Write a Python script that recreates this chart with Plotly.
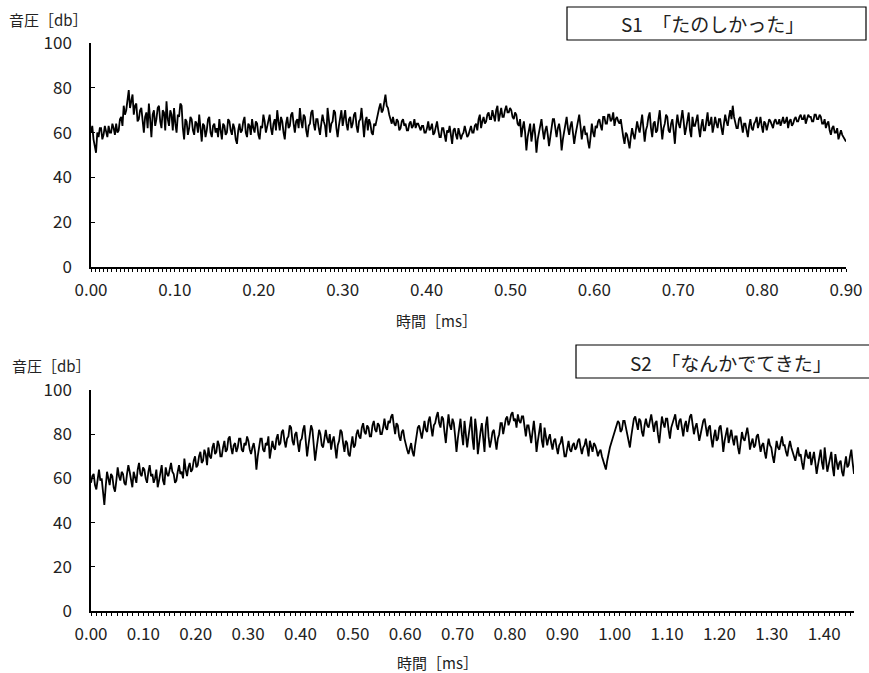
import numpy as np
import plotly.graph_objects as go

# ---- data ----
s1_label = "S1　「たのしかった」"
s2_label = "S2　「なんかでてきた」"
y_title = "音圧［db］"
x_title = "時間［ms］"

s1_step = 0.0015  # ms
s1_db = [
    60, 63, 57, 54, 51, 60, 58, 62, 62, 57, 59, 63, 61, 58, 63, 60, 60, 64, 62, 59,
    64, 60, 61, 66, 67, 63, 72, 68, 70, 75, 79, 71, 74, 77, 68, 72, 73, 65, 66, 70,
    71, 64, 60, 67, 69, 62, 73, 66, 58, 68, 70, 63, 66, 71, 72, 65, 62, 70, 69, 61,
    74, 66, 63, 70, 68, 61, 71, 64, 60, 68, 67, 73, 72, 62, 57, 66, 65, 59, 62, 67,
    66, 61, 59, 65, 64, 60, 68, 62, 56, 64, 63, 58, 61, 66, 67, 60, 58, 63, 64, 60,
    62, 58, 66, 61, 57, 64, 63, 59, 60, 66, 65, 61, 59, 64, 62, 57, 55, 61, 64, 60,
    61, 65, 67, 60, 58, 64, 63, 59, 66, 62, 60, 65, 64, 59, 57, 63, 62, 68, 65, 60,
    63, 66, 68, 62, 59, 64, 66, 61, 70, 65, 61, 67, 65, 60, 57, 64, 67, 62, 63, 68,
    69, 64, 60, 65, 66, 62, 71, 65, 62, 68, 67, 61, 58, 63, 64, 69, 70, 64, 61, 66,
    66, 62, 59, 64, 68, 65, 63, 58, 71, 66, 60, 64, 65, 70, 69, 62, 58, 63, 66, 70,
    63, 67, 70, 64, 61, 66, 67, 62, 64, 68, 69, 63, 60, 65, 66, 71, 62, 58, 65, 67,
    61, 66, 64, 60, 59, 64, 63, 66, 68, 71, 73, 69, 70, 74, 77, 72, 71, 68, 66, 64,
    67, 64, 63, 66, 65, 61, 62, 65, 66, 63, 64, 61, 61, 64, 65, 62, 63, 66, 62, 64,
    64, 62, 61, 63, 63, 60, 60, 62, 65, 61, 62, 64, 59, 60, 63, 65, 61, 58, 58, 62,
    62, 58, 56, 61, 60, 63, 58, 55, 61, 62, 59, 57, 62, 60, 57, 59, 60, 63, 61, 58,
    59, 61, 63, 60, 60, 63, 64, 61, 66, 68, 62, 65, 67, 64, 65, 68, 69, 66, 66, 70,
    68, 65, 70, 72, 65, 68, 71, 67, 67, 70, 72, 69, 69, 71, 70, 67, 66, 69, 68, 64,
    63, 66, 58, 62, 65, 60, 52, 58, 61, 64, 56, 60, 64, 59, 51, 57, 60, 63, 66, 61,
    57, 61, 63, 59, 54, 58, 62, 66, 66, 61, 58, 62, 64, 60, 52, 57, 60, 64, 67, 62,
    59, 63, 65, 60, 55, 59, 62, 66, 68, 63, 57, 61, 63, 59, 60, 56, 53, 58, 64, 60,
    58, 63, 62, 65, 66, 63, 61, 67, 67, 64, 64, 68, 68, 65, 66, 69, 63, 66, 67, 65,
    64, 66, 61, 58, 55, 60, 59, 56, 53, 58, 62, 59, 57, 61, 65, 62, 60, 64, 68, 62,
    56, 61, 63, 67, 69, 62, 58, 64, 65, 60, 61, 66, 70, 63, 57, 62, 64, 68, 67, 61,
    60, 64, 66, 61, 55, 63, 68, 64, 62, 66, 70, 65, 59, 62, 65, 69, 61, 58, 67, 63,
    63, 66, 68, 62, 58, 63, 66, 61, 61, 65, 69, 63, 64, 67, 60, 63, 67, 64, 62, 66,
    66, 62, 59, 64, 68, 65, 63, 67, 70, 66, 72, 67, 65, 62, 62, 66, 67, 63, 60, 64,
    64, 61, 58, 63, 66, 62, 61, 64, 65, 67, 62, 64, 67, 63, 60, 65, 64, 61, 63, 66,
    65, 63, 62, 65, 66, 64, 64, 66, 63, 65, 67, 64, 65, 67, 62, 65, 66, 63, 64, 66,
    67, 65, 65, 67, 68, 66, 66, 68, 64, 66, 68, 67, 67, 65, 65, 68, 68, 66, 66, 68,
    67, 64, 64, 66, 62, 64, 65, 61, 59, 62, 63, 60, 60, 62, 57, 59, 61, 59, 58, 57,
    56,
]

s2_end = 1.457  # ms
s2_db = [
    58, 61, 62, 57, 55, 60, 64, 59, 60, 54, 48, 56, 63, 60, 57, 62, 61, 56, 54, 59,
    65, 61, 59, 63, 62, 58, 57, 62, 66, 63, 60, 56, 63, 60, 58, 64, 67, 62, 61, 65,
    64, 60, 58, 63, 66, 61, 62, 58, 60, 64, 56, 59, 63, 66, 59, 57, 65, 62, 61, 64,
    67, 63, 62, 58, 59, 63, 66, 62, 63, 60, 69, 64, 61, 65, 67, 63, 64, 68, 70, 65,
    66, 70, 72, 67, 68, 73, 71, 66, 74, 70, 69, 74, 76, 71, 72, 77, 75, 70, 70, 74,
    77, 72, 73, 78, 79, 74, 71, 75, 76, 72, 74, 78, 78, 73, 72, 76, 75, 79, 77, 73,
    71, 74, 76, 72, 64, 70, 74, 78, 78, 73, 72, 76, 75, 79, 69, 73, 77, 74, 73, 78,
    80, 75, 76, 81, 82, 77, 74, 78, 79, 84, 83, 77, 75, 80, 81, 76, 72, 77, 78, 82,
    84, 77, 70, 75, 79, 84, 82, 75, 68, 73, 77, 82, 80, 75, 74, 79, 82, 78, 76, 80,
    73, 77, 79, 74, 69, 75, 77, 82, 81, 76, 72, 77, 76, 71, 70, 75, 79, 74, 75, 80,
    82, 79, 78, 83, 85, 81, 80, 84, 83, 79, 79, 84, 86, 82, 81, 85, 84, 80, 80, 83,
    87, 83, 82, 86, 85, 88, 89, 84, 80, 85, 84, 79, 77, 81, 82, 78, 75, 73, 71, 74,
    76, 72, 70, 75, 79, 83, 84, 80, 78, 82, 86, 82, 81, 86, 88, 83, 79, 84, 85, 88,
    90, 85, 83, 88, 87, 81, 76, 83, 89, 84, 82, 87, 85, 79, 72, 78, 84, 87, 80, 75,
    86, 80, 74, 79, 83, 88, 78, 73, 87, 82, 71, 77, 81, 85, 76, 72, 84, 88, 79, 74,
    77, 81, 82, 76, 73, 78, 80, 85, 85, 80, 83, 87, 88, 84, 86, 89, 90, 86, 87, 83,
    89, 86, 85, 88, 88, 83, 79, 84, 84, 80, 76, 81, 86, 80, 72, 77, 81, 85, 77, 74,
    83, 79, 75, 78, 80, 76, 73, 77, 78, 74, 71, 75, 76, 79, 74, 70, 70, 74, 77, 73,
    72, 75, 76, 73, 74, 77, 78, 74, 71, 74, 75, 78, 73, 70, 77, 74, 72, 76, 75, 73,
    70, 72, 73, 70, 68, 66, 64, 68, 72, 74, 76, 78, 79, 82, 83, 86, 85, 81, 82, 86,
    86, 83, 80, 77, 74, 79, 84, 87, 88, 84, 82, 87, 86, 81, 79, 84, 87, 84, 83, 86,
    89, 85, 81, 85, 86, 80, 76, 82, 88, 85, 83, 87, 87, 82, 78, 83, 85, 88, 89, 84,
    82, 86, 87, 83, 79, 84, 86, 81, 84, 88, 89, 85, 80, 83, 85, 81, 77, 80, 83, 86,
    87, 82, 79, 83, 84, 78, 74, 79, 82, 77, 78, 83, 84, 79, 72, 77, 80, 83, 76, 79,
    82, 78, 75, 79, 79, 74, 71, 76, 81, 78, 77, 80, 83, 79, 73, 76, 78, 74, 75, 79,
    80, 76, 72, 75, 76, 72, 69, 74, 78, 75, 74, 70, 67, 72, 77, 74, 73, 76, 79, 75,
    75, 72, 70, 74, 77, 74, 72, 69, 68, 71, 74, 70, 71, 67, 64, 69, 73, 70, 69, 72,
    66, 69, 72, 67, 62, 66, 70, 73, 67, 64, 74, 68, 63, 66, 69, 72, 65, 61, 71, 67,
    64, 67, 68, 63, 61, 66, 70, 65, 66, 70, 73, 67, 62,
]

s1_t = np.arange(len(s1_db)) * s1_step
s2_t = np.linspace(0, s2_end, len(s2_db))

W, H = 869, 673
FONT = "Noto Sans CJK JP"

def px(x):
    return x / W

def py(y):
    return 1 - y / H

fig = go.Figure()
fig.add_trace(go.Scatter(x=s1_t, y=s1_db, mode="lines",
                         line=dict(color="black", width=1.8),
                         xaxis="x", yaxis="y", showlegend=False))
fig.add_trace(go.Scatter(x=s2_t, y=s2_db, mode="lines",
                         line=dict(color="black", width=1.8),
                         xaxis="x2", yaxis="y2", showlegend=False))

common_x = dict(showgrid=False, zeroline=False, showline=True, linecolor="black",
                linewidth=1.5, ticks="outside", ticklen=3, tickcolor="black",
                tickformat=".2f", dtick=0.1, tick0=0, automargin=False,
                tickfont=dict(family=FONT, size=17, color="#222"),
                ticklabelstandoff=4)
common_y = dict(showgrid=False, zeroline=False, showline=True, linecolor="black",
                linewidth=1.5, ticks="inside", ticklen=4, tickcolor="black",
                dtick=20, range=[0, 100], automargin=False,
                tickfont=dict(family=FONT, size=17, color="#222"),
                ticklabelstandoff=14)

fig.update_layout(
    width=W, height=H, margin=dict(l=0, r=0, t=0, b=0),
    paper_bgcolor="white", plot_bgcolor="white",
    font=dict(family=FONT, color="#222"),
    xaxis=dict(domain=[px(91), px(846)], range=[0, 0.9], anchor="y",
               minor=dict(dtick=0.005, ticks="outside", ticklen=3, tickcolor="black"),
               **common_x),
    yaxis=dict(domain=[py(267), py(43)], anchor="x", **common_y),
    xaxis2=dict(domain=[px(91), px(854)], range=[0, s2_end], anchor="y2",
                minor=dict(dtick=0.01, ticks="outside", ticklen=3, tickcolor="black"),
                **common_x),
    yaxis2=dict(domain=[py(611), py(390)], anchor="x2", **common_y),
)

annots = [
    dict(text=y_title, x=px(7), y=py(19), xanchor="left", yanchor="middle", size=15),
    dict(text=y_title, x=px(10), y=py(366), xanchor="left", yanchor="middle", size=15),
    dict(text=x_title, x=px(436), y=py(320), xanchor="center", yanchor="middle", size=15),
    dict(text=x_title, x=px(437), y=py(662), xanchor="center", yanchor="middle", size=15),
    dict(text=s1_label, x=px(712), y=py(24), xanchor="center", yanchor="middle", size=19),
    dict(text=s2_label, x=px(731), y=py(362), xanchor="center", yanchor="middle", size=19),
]
for a in annots:
    fig.add_annotation(text=a["text"], x=a["x"], y=a["y"], xref="paper", yref="paper",
                       xanchor=a["xanchor"], yanchor=a["yanchor"], showarrow=False,
                       font=dict(family=FONT, size=a["size"], color="#222"))

fig.add_shape(type="rect", xref="paper", yref="paper",
              x0=px(567), x1=px(866), y0=py(40), y1=py(7),
              line=dict(color="black", width=1.2), fillcolor="rgba(0,0,0,0)")
fig.add_shape(type="rect", xref="paper", yref="paper",
              x0=px(576), x1=px(880), y0=py(378), y1=py(345),
              line=dict(color="black", width=1.2), fillcolor="rgba(0,0,0,0)")

fig.write_html("out.html", config={"displayModeBar": False},
               post_script="document.body.style.margin='0';document.body.style.overflow='hidden';")
